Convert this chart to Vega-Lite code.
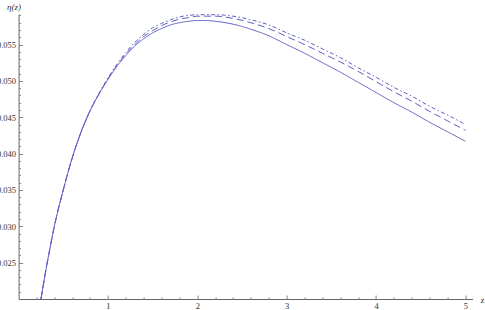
{
  "$schema": "https://vega.github.io/schema/vega-lite/v6.json",
  "width": 454,
  "height": 285,
  "autosize": {"type": "none"},
  "padding": {"left": 18.6, "top": 14, "right": 12.4, "bottom": 11},
  "background": "white",
  "config": {"view": {"stroke": null}, "axis": {"grid": false}},
  "data": {"values": [
    {"z":0.25,"eta":0.0200,"s":"a"},{"z":0.3,"eta":0.0236,"s":"a"},{"z":0.35,"eta":0.0269,"s":"a"},{"z":0.4,"eta":0.0300,"s":"a"},{"z":0.5,"eta":0.0350,"s":"a"},{"z":0.6,"eta":0.0394,"s":"a"},{"z":0.7,"eta":0.0430,"s":"a"},{"z":0.8,"eta":0.0459,"s":"a"},{"z":0.9,"eta":0.0482,"s":"a"},{"z":1.0,"eta":0.0502,"s":"a"},{"z":1.1,"eta":0.0520,"s":"a"},{"z":1.2,"eta":0.0535,"s":"a"},{"z":1.3,"eta":0.0548,"s":"a"},{"z":1.4,"eta":0.0558,"s":"a"},{"z":1.5,"eta":0.0566,"s":"a"},{"z":1.6,"eta":0.0572,"s":"a"},{"z":1.7,"eta":0.0577,"s":"a"},{"z":1.8,"eta":0.0580,"s":"a"},{"z":1.9,"eta":0.0582,"s":"a"},{"z":2.0,"eta":0.0583,"s":"a"},{"z":2.1,"eta":0.0583,"s":"a"},{"z":2.2,"eta":0.0582,"s":"a"},{"z":2.4,"eta":0.0578,"s":"a"},{"z":2.6,"eta":0.0571,"s":"a"},{"z":2.8,"eta":0.0562,"s":"a"},{"z":3.0,"eta":0.0550,"s":"a"},{"z":3.2,"eta":0.0538,"s":"a"},{"z":3.4,"eta":0.0525,"s":"a"},{"z":3.6,"eta":0.0512,"s":"a"},{"z":3.8,"eta":0.0498,"s":"a"},{"z":4.0,"eta":0.0484,"s":"a"},{"z":4.2,"eta":0.0470,"s":"a"},{"z":4.4,"eta":0.0457,"s":"a"},{"z":4.6,"eta":0.0443,"s":"a"},{"z":4.8,"eta":0.0430,"s":"a"},{"z":5.0,"eta":0.0417,"s":"a"},
    {"z":0.25,"eta":0.0200,"s":"b"},{"z":0.3,"eta":0.0236,"s":"b"},{"z":0.35,"eta":0.0269,"s":"b"},{"z":0.4,"eta":0.0300,"s":"b"},{"z":0.5,"eta":0.0350,"s":"b"},{"z":0.6,"eta":0.0394,"s":"b"},{"z":0.7,"eta":0.0430,"s":"b"},{"z":0.8,"eta":0.0459,"s":"b"},{"z":0.9,"eta":0.0482,"s":"b"},{"z":1.0,"eta":0.0503,"s":"b"},{"z":1.1,"eta":0.0521,"s":"b"},{"z":1.2,"eta":0.0537,"s":"b"},{"z":1.3,"eta":0.0550,"s":"b"},{"z":1.4,"eta":0.0561,"s":"b"},{"z":1.5,"eta":0.0569,"s":"b"},{"z":1.6,"eta":0.0576,"s":"b"},{"z":1.7,"eta":0.0581,"s":"b"},{"z":1.8,"eta":0.0585,"s":"b"},{"z":1.9,"eta":0.0587,"s":"b"},{"z":2.0,"eta":0.0589,"s":"b"},{"z":2.1,"eta":0.0589,"s":"b"},{"z":2.2,"eta":0.0589,"s":"b"},{"z":2.4,"eta":0.0586,"s":"b"},{"z":2.6,"eta":0.0580,"s":"b"},{"z":2.8,"eta":0.0572,"s":"b"},{"z":3.0,"eta":0.0561,"s":"b"},{"z":3.2,"eta":0.0550,"s":"b"},{"z":3.4,"eta":0.0538,"s":"b"},{"z":3.6,"eta":0.0526,"s":"b"},{"z":3.8,"eta":0.0513,"s":"b"},{"z":4.0,"eta":0.0499,"s":"b"},{"z":4.2,"eta":0.0485,"s":"b"},{"z":4.4,"eta":0.0472,"s":"b"},{"z":4.6,"eta":0.0458,"s":"b"},{"z":4.8,"eta":0.0445,"s":"b"},{"z":5.0,"eta":0.0432,"s":"b"},
    {"z":0.25,"eta":0.0200,"s":"c"},{"z":0.3,"eta":0.0236,"s":"c"},{"z":0.35,"eta":0.0269,"s":"c"},{"z":0.4,"eta":0.0300,"s":"c"},{"z":0.5,"eta":0.0350,"s":"c"},{"z":0.6,"eta":0.0394,"s":"c"},{"z":0.7,"eta":0.0430,"s":"c"},{"z":0.8,"eta":0.0459,"s":"c"},{"z":0.9,"eta":0.0483,"s":"c"},{"z":1.0,"eta":0.0504,"s":"c"},{"z":1.1,"eta":0.0523,"s":"c"},{"z":1.2,"eta":0.0539,"s":"c"},{"z":1.3,"eta":0.0553,"s":"c"},{"z":1.4,"eta":0.0564,"s":"c"},{"z":1.5,"eta":0.0573,"s":"c"},{"z":1.6,"eta":0.0579,"s":"c"},{"z":1.7,"eta":0.0584,"s":"c"},{"z":1.8,"eta":0.0588,"s":"c"},{"z":1.9,"eta":0.0590,"s":"c"},{"z":2.0,"eta":0.0591,"s":"c"},{"z":2.1,"eta":0.0591,"s":"c"},{"z":2.2,"eta":0.0591,"s":"c"},{"z":2.4,"eta":0.0589,"s":"c"},{"z":2.6,"eta":0.0584,"s":"c"},{"z":2.8,"eta":0.0577,"s":"c"},{"z":3.0,"eta":0.0566,"s":"c"},{"z":3.2,"eta":0.0556,"s":"c"},{"z":3.4,"eta":0.0544,"s":"c"},{"z":3.6,"eta":0.0532,"s":"c"},{"z":3.8,"eta":0.0518,"s":"c"},{"z":4.0,"eta":0.0505,"s":"c"},{"z":4.2,"eta":0.0491,"s":"c"},{"z":4.4,"eta":0.0479,"s":"c"},{"z":4.6,"eta":0.0465,"s":"c"},{"z":4.8,"eta":0.0453,"s":"c"},{"z":5.0,"eta":0.0440,"s":"c"}
  ]},
  "resolve": {"axis": {"x": "independent", "y": "independent"}},
  "layer": [
    {
      "mark": {"type": "line", "strokeWidth": 1, "color": "#5e5ec4", "clip": true, "interpolate": "monotone"},
      "encoding": {
        "x": {"field": "z", "type": "quantitative", "scale": {"domain": [0, 5.08], "nice": false, "zero": false},
          "axis": {"orient": "bottom", "values": [1, 2, 3, 4, 5], "format": "d", "title": "z", "titleX": 463.4, "titleY": 0, "titleAlign": "center", "titleBaseline": "middle", "titleFont": "Liberation Serif", "titleFontWeight": "normal", "titleFontSize": 9, "titleColor": "#333",
            "tickSize": -4, "tickColor": "#888", "domainColor": "#666", "labelFont": "Liberation Serif", "labelFontSize": 8.5, "labelColor": "#333", "labelPadding": 6, "labelBaseline": "top"}},
        "y": {"field": "eta", "type": "quantitative", "scale": {"domain": [0.02, 0.0592], "nice": false, "zero": false},
          "axis": {"orient": "left", "values": [0.025, 0.03, 0.035, 0.04, 0.045, 0.05, 0.055], "format": ".3f", "title": "η(z)", "titleAngle": 0, "titleX": -5, "titleY": -8, "titleAlign": "center", "titleBaseline": "middle", "titleFont": "Liberation Serif", "titleFontStyle": "italic", "titleFontWeight": "normal", "titleFontSize": 9, "titleColor": "#333",
            "tickSize": -4, "tickColor": "#888", "domainColor": "#666", "labelFont": "Liberation Serif", "labelFontSize": 8.5, "labelColor": "#333", "labelPadding": 7}},
        "strokeDash": {"field": "s", "type": "nominal", "scale": {"domain": ["a", "b", "c"], "range": [[1, 0], [7, 4], [1.5, 2.5, 4, 2.5]]}, "legend": null}
      }
    },
    {
      "mark": {"type": "line", "strokeOpacity": 0},
      "encoding": {
        "x": {"field": "z", "type": "quantitative", "scale": {"domain": [0, 5.08], "nice": false, "zero": false},
          "axis": {"orient": "bottom", "values": [0.2, 0.4, 0.6, 0.8, 1.2, 1.4, 1.6, 1.8, 2.2, 2.4, 2.6, 2.8, 3.2, 3.4, 3.6, 3.8, 4.2, 4.4, 4.6, 4.8], "labels": false, "domain": false, "title": null, "tickSize": -2, "tickColor": "#888"}},
        "y": {"field": "eta", "type": "quantitative", "scale": {"domain": [0.02, 0.0592], "nice": false, "zero": false},
          "axis": {"orient": "left", "values": [0.021, 0.022, 0.023, 0.024, 0.026, 0.027, 0.028, 0.029, 0.031, 0.032, 0.033, 0.034, 0.036, 0.037, 0.038, 0.039, 0.041, 0.042, 0.043, 0.044, 0.046, 0.047, 0.048, 0.049, 0.051, 0.052, 0.053, 0.054, 0.056, 0.057, 0.058, 0.059], "labels": false, "domain": false, "title": null, "tickSize": -2, "tickColor": "#888"}},
        "detail": {"field": "s", "type": "nominal"}
      }
    }
  ]
}
